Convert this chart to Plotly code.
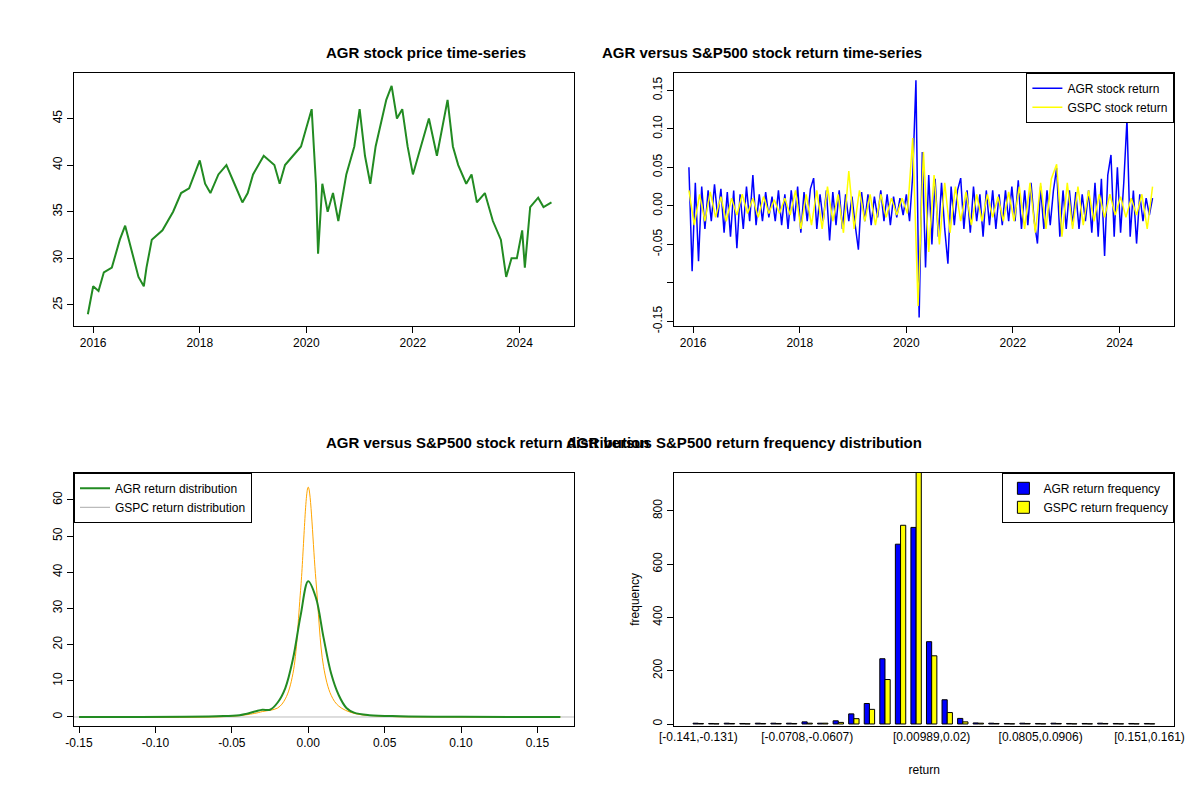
import numpy as np
import plotly.graph_objects as go

# AGR price (decimal year, close)
price_years = [2015.9, 2016.0, 2016.1, 2016.2, 2016.35, 2016.5, 2016.6, 2016.75, 2016.85, 2016.95,
               2017.0, 2017.1, 2017.3, 2017.5, 2017.65, 2017.8, 2018.0, 2018.1, 2018.2, 2018.35,
               2018.5, 2018.65, 2018.8, 2018.9, 2019.0, 2019.2, 2019.4, 2019.5, 2019.6, 2019.75,
               2019.9, 2020.0, 2020.1, 2020.18, 2020.22, 2020.3, 2020.4, 2020.5, 2020.6, 2020.75,
               2020.9, 2021.0, 2021.1, 2021.2, 2021.3, 2021.5, 2021.6, 2021.7, 2021.8, 2021.9,
               2022.0, 2022.1, 2022.3, 2022.45, 2022.55, 2022.65, 2022.75, 2022.85, 2023.0, 2023.1,
               2023.2, 2023.35, 2023.5, 2023.65, 2023.75, 2023.85, 2023.95, 2024.05, 2024.1, 2024.2,
               2024.35, 2024.45, 2024.6]
price_vals = [24, 27, 26.5, 28.5, 29, 32, 33.5, 30, 28, 27,
              29, 32, 33, 35, 37, 37.5, 40.5, 38, 37, 39,
              40, 38, 36, 37, 39, 41, 40, 38, 40, 41,
              42, 44, 46, 38, 30.5, 38, 35, 37, 34, 39,
              42, 46, 41, 38, 42, 47, 48.5, 45, 46, 42,
              39, 41, 45, 41, 44, 47, 42, 40, 38, 39,
              36, 37, 34, 32, 28, 30, 30, 33, 29, 35.5,
              36.5, 35.5, 36]

# daily returns, sampled
agr_ret = [0.05, -0.085, 0.03, -0.072, 0.025, -0.03, 0.02, -0.02, 0.028, -0.015,
           0.022, -0.035, 0.018, -0.04, 0.02, -0.055, 0.015, -0.03, 0.025, -0.02,
           0.04, -0.025, 0.015, -0.02, 0.018, -0.015, 0.012, -0.02, 0.02, -0.025,
           0.015, -0.03, 0.02, -0.02, 0.025, -0.035, 0.018, -0.02, 0.022, 0.036,
           -0.03, 0.015, -0.02, 0.02, -0.045, 0.018, -0.025, 0.02, -0.03, 0.015,
           -0.02, 0.012, -0.025, -0.057, 0.018, -0.02, 0.015, -0.025, 0.012, -0.015,
           0.02, -0.02, 0.015, -0.025, 0.012, -0.015, 0.01, -0.012, 0.015, -0.02,
           0.04, 0.163, -0.145, 0.07, -0.08, 0.04, -0.05, 0.035, -0.04, 0.03,
           -0.03, -0.075, 0.025, -0.025, 0.02, 0.036, -0.03, 0.02, -0.035, 0.025,
           -0.02, 0.015, -0.04, 0.02, -0.025, 0.02, -0.03, 0.015, -0.025, 0.02,
           -0.02, 0.025, -0.02, 0.033, -0.03, 0.02, -0.025, 0.03, -0.02, -0.049,
           0.025, -0.03, 0.02, -0.025, 0.02, 0.049, -0.04, 0.02, -0.03, 0.02,
           -0.025, 0.018, -0.03, 0.015, -0.02, 0.02, -0.035, 0.03, -0.04, 0.035,
           -0.065, 0.04, 0.066, -0.04, 0.05, -0.035, 0.03, 0.112, -0.04, 0.02,
           -0.049, 0.015, -0.02, 0.01, -0.012, 0.01]
gspc_ret = [0.02, -0.025, 0.015, -0.02, 0.018, -0.015, 0.012, -0.02, 0.01, -0.012,
            0.015, -0.01, 0.01, -0.015, 0.012, -0.01, 0.008, -0.01, 0.01, -0.012,
            0.02, -0.03, 0.015, -0.025, 0.02, -0.03, 0.025, -0.02, 0.015, -0.035,
            0.045, -0.03, 0.02, -0.02, 0.015, -0.025, 0.015, -0.015, 0.01, -0.012,
            0.01, -0.01, 0.088, -0.13, 0.07, -0.06, 0.04, -0.05, 0.03, -0.035,
            0.025, -0.02, 0.018, -0.025, 0.015, -0.02, 0.015, -0.015, 0.012, -0.02,
            0.018, -0.02, 0.025, -0.03, 0.03, -0.035, 0.03, -0.03, 0.035, 0.054,
            -0.04, 0.03, -0.03, 0.025, -0.025, 0.02, -0.02, 0.015, -0.015, 0.015,
            -0.012, 0.012, -0.015, 0.01, -0.012, 0.015, -0.03, 0.025]
agr_t = np.linspace(2015.92, 2024.62, len(agr_ret))
gspc_t = np.linspace(2015.92, 2024.62, len(gspc_ret))

# densities
agr_dx = [-0.15, -0.06, -0.045, -0.035, -0.03, -0.025, -0.02, -0.015, -0.01, -0.005, 0,
          0.005, 0.01, 0.015, 0.02, 0.025, 0.03, 0.04, 0.06, 0.1, 0.165]
agr_dy = [0, 0.2, 0.5, 1.5, 2, 2, 4, 8, 16, 28, 37.5, 33, 22, 12, 6, 2.5, 1.2, 0.5, 0.2, 0.05, 0]
gspc_dx = [-0.15, -0.05, -0.035, -0.03, -0.02, -0.015, -0.01, -0.005, 0, 0.005, 0.01,
           0.015, 0.02, 0.03, 0.05, 0.09, 0.165]
gspc_dy = [0, 0.2, 1, 1.5, 2.5, 5, 12, 35, 63.5, 38, 14, 6, 3, 1, 0.2, 0, 0]

# histogram bins
bins = ["[-0.141,-0.131)", "[-0.131,-0.121)", "[-0.121,-0.111)", "[-0.111,-0.101)",
        "[-0.101,-0.0909)", "[-0.0909,-0.0808)", "[-0.0808,-0.0708)", "[-0.0708,-0.0607)",
        "[-0.0607,-0.0506)", "[-0.0506,-0.0406)", "[-0.0406,-0.0305)", "[-0.0305,-0.0204)",
        "[-0.0204,-0.0104)", "[-0.0104,-0.000267)", "[-0.000267,0.00989)", "[0.00989,0.02)",
        "[0.02,0.0301)", "[0.0301,0.0402)", "[0.0402,0.0502)", "[0.0502,0.0603)",
        "[0.0603,0.0704)", "[0.0704,0.0805)", "[0.0805,0.0906)", "[0.0906,0.101)",
        "[0.101,0.111)", "[0.111,0.121)", "[0.121,0.131)", "[0.131,0.141)",
        "[0.141,0.151)", "[0.151,0.161)"]
agr_freq = [3, 2, 3, 2, 3, 3, 3, 8, 3, 12, 38, 77, 245, 675, 738, 309, 91, 21, 4,
            3, 2, 3, 2, 3, 2, 2, 3, 2, 2, 2]
gspc_freq = [2, 1, 2, 1, 2, 2, 2, 3, 3, 6, 20, 55, 167, 746, 1000, 256, 43, 8, 3,
             2, 1, 2, 1, 2, 1, 1, 2, 1, 1, 1]
shown_bins = [bins[0], bins[7], bins[15], bins[22], bins[29]]

fig = go.Figure()
fig.add_trace(go.Scatter(x=price_years, y=price_vals, mode="lines",
                         line=dict(color="forestgreen", width=2), showlegend=False,
                         xaxis="x", yaxis="y"))

fig.add_trace(go.Scatter(x=agr_t, y=agr_ret, mode="lines", name="AGR stock return",
                         line=dict(color="blue", width=1.5), xaxis="x2", yaxis="y2", legend="legend2"))
fig.add_trace(go.Scatter(x=gspc_t, y=gspc_ret, mode="lines", name="GSPC stock return",
                         line=dict(color="yellow", width=1.5), xaxis="x2", yaxis="y2", legend="legend2"))

fig.add_trace(go.Scatter(x=[-0.16, 0.18], y=[0, 0], mode="lines", line=dict(color="#bbbbbb", width=1),
                         showlegend=False, xaxis="x3", yaxis="y3"))
fig.add_trace(go.Scatter(x=gspc_dx, y=gspc_dy, mode="lines", line=dict(color="orange", width=1, shape="spline"),
                         showlegend=False, xaxis="x3", yaxis="y3"))
fig.add_trace(go.Scatter(x=agr_dx, y=agr_dy, mode="lines", name="AGR return distribution",
                         line=dict(color="forestgreen", width=2, shape="spline"),
                         xaxis="x3", yaxis="y3", legend="legend3"))
fig.add_trace(go.Scatter(x=[None], y=[None], mode="lines", name="GSPC return distribution",
                         line=dict(color="#aaaaaa", width=1), xaxis="x3", yaxis="y3", legend="legend3"))

fig.add_trace(go.Bar(x=bins, y=agr_freq, name="AGR return frequency", marker=dict(color="blue", line=dict(color="black", width=1)),
                     xaxis="x4", yaxis="y4", legend="legend4"))
fig.add_trace(go.Bar(x=bins, y=gspc_freq, name="GSPC return frequency", marker=dict(color="yellow", line=dict(color="black", width=1)),
                     xaxis="x4", yaxis="y4", legend="legend4"))

ax = dict(showline=True, mirror=True, linecolor="black", linewidth=1, ticks="outside",
          ticklen=6, tickcolor="black", showgrid=False, zeroline=False, automargin=False,
          tickfont=dict(size=12, color="black"))
yx = dict(ax, tickangle=-90)
dx1 = [0.055, 0.472]
dx2 = [0.555, 0.972]
dyt = [0.6025, 0.919]
dyb = [0.1025, 0.419]

fig.update_layout(
    width=1200, height=800, margin=dict(l=0, r=0, t=0, b=0, autoexpand=False),
    paper_bgcolor="white", plot_bgcolor="white",
    font=dict(family="Liberation Sans, Arial", color="black"),
    barmode="group", bargap=1/3, bargroupgap=0,
    xaxis=dict(ax, domain=dx1, anchor="y", range=[2015.64, 2025.03], tickvals=[2016, 2018, 2020, 2022, 2024]),
    yaxis=dict(yx, domain=dyt, anchor="x", range=[22.74, 49.9], tickvals=[25, 30, 35, 40, 45]),
    xaxis2=dict(ax, domain=dx2, anchor="y2", range=[2015.64, 2025.03], tickvals=[2016, 2018, 2020, 2022, 2024]),
    yaxis2=dict(yx, domain=dyt, anchor="x2", range=[-0.156, 0.1727],
                tickvals=[-0.15, -0.1, -0.05, 0, 0.05, 0.1, 0.15],
                ticktext=["-0.15", "", "-0.05", "0.00", "0.05", "0.10", "0.15"]),
    xaxis3=dict(ax, domain=dx1, anchor="y3", range=[-0.1533, 0.1742],
                tickvals=[-0.15, -0.1, -0.05, 0, 0.05, 0.1, 0.15],
                ticktext=["-0.15", "-0.10", "-0.05", "0.00", "0.05", "0.10", "0.15"]),
    yaxis3=dict(yx, domain=dyb, anchor="x3", range=[-2.49, 67.46], tickvals=[0, 10, 20, 30, 40, 50, 60]),
    xaxis4=dict(ax, domain=dx2, anchor="y4", type="category", range=[-1.56, 30.6],
                tickvals=shown_bins, ticktext=shown_bins, ticklen=0,
                title=dict(text="return", font=dict(size=12), standoff=22)),
    yaxis4=dict(yx, domain=dyb, anchor="x4", range=[-7.5, 943], tickvals=[0, 200, 400, 600, 800],
                title=dict(text="frequency", font=dict(size=12), standoff=8)),
    legend2=dict(x=0.972, y=0.919, xanchor="right", yanchor="top", bordercolor="black", borderwidth=1,
                 bgcolor="white", font=dict(size=12), tracegroupgap=0),
    legend3=dict(x=0.055, y=0.419, xanchor="left", yanchor="top", bordercolor="black", borderwidth=1,
                 bgcolor="white", font=dict(size=12)),
    legend4=dict(x=0.972, y=0.419, xanchor="right", yanchor="top", bordercolor="black", borderwidth=1,
                 bgcolor="white", font=dict(size=12)),
)

titles = [("AGR stock price time-series", 0.2635, 0.957),
          ("AGR versus S&P500 stock return time-series", 0.7635, 0.957),
          ("AGR versus S&P500 stock return distribution", 0.2635, 0.457),
          ("AGR versus S&P500 return frequency distribution", 0.7635, 0.457)]
for text, x, y in titles:
    fig.add_annotation(text="<b>" + text + "</b>", x=x, y=y, xref="paper", yref="paper",
                       showarrow=False, font=dict(size=15))

fig.write_html("out.html")
